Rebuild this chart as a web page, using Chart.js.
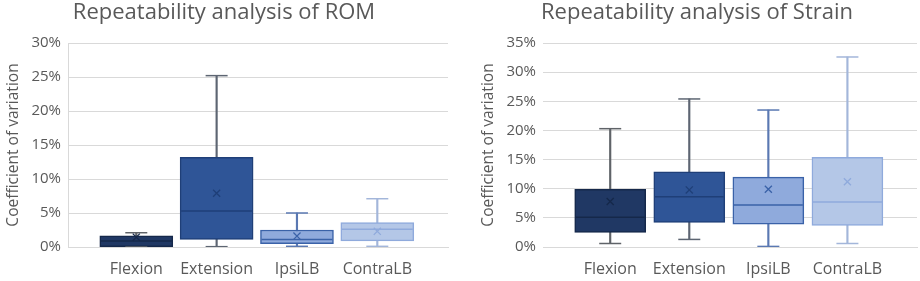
<!DOCTYPE html>
<html>
<head>
<meta charset="utf-8">
<script src="https://cdn.jsdelivr.net/npm/chart.js@4.4.1/dist/chart.umd.min.js"></script>
<style>
  body { margin: 0; background: #fff; }
  .wrap { position: absolute; top: 0; width: 460px; height: 281px; }
</style>
</head>
<body>
<div class="wrap" style="left:0"><canvas id="romChart"></canvas></div>
<div class="wrap" style="left:460px"><canvas id="strainChart"></canvas></div>
<script>
const categories = ['Flexion', 'Extension', 'IpsiLB', 'ContraLB'];

// ROM, coefficient of variation in %
const romMin    = [0.0, 0.05, 0.1, 0.1];
const romQ1     = [0.05, 1.1, 0.5, 0.9];
const romMedian = [0.9, 5.3, 1.1, 2.6];
const romQ3     = [1.65, 13.2, 2.5, 3.6];
const romMax    = [2.1, 25.2, 5.0, 7.1];
const romMean   = [1.45, 7.9, 1.6, 2.3];

// Strain, coefficient of variation in %
const strainMin    = [0.6, 1.3, 0.1, 0.6];
const strainQ1     = [2.5, 4.2, 3.9, 3.7];
const strainMedian = [5.1, 8.6, 7.2, 7.7];
const strainQ3     = [9.9, 12.9, 12.0, 15.4];
const strainMax    = [20.3, 25.4, 23.5, 32.6];
const strainMean   = [7.8, 9.8, 9.9, 11.2];

const fillColors    = ['#203864', '#2f5597', '#8faadc', '#b4c7e7'];
const borderColors  = ['#15284a', '#1f3f78', '#3a62a8', '#8faadc'];
const whiskerColors = ['#5f6368', '#5d6572', '#5a78b2', '#a3b6da'];
const textColor = '#595959';
const gridColor = '#d9d9d9';

function points(values) {
    return values.map((v, i) => ({x: i, y: v}));
}

function makeBoxChart(id, title, mins, q1, med, q3, maxs, mean, yMax, pad, yAxisWidth, titlePad, boxWidth, showLeftLine) {
    const data = {
        datasets: [
            {   // whiskers
                type: 'bar',
                data: mins.map((v, i) => ({x: i, y: [v, maxs[i]]})),
                backgroundColor: whiskerColors,
                barThickness: 1.5,
                grouped: false,
                order: 4
            },
            {   // boxes
                type: 'bar',
                data: q1.map((v, i) => ({x: i, y: [v, q3[i]]})),
                backgroundColor: fillColors,
                borderColor: borderColors,
                borderWidth: 1.5,
                borderSkipped: false,
                barThickness: boxWidth,
                grouped: false,
                order: 3
            },
            {   // whisker caps
                type: 'line',
                data: points(mins).concat(points(maxs)),
                showLine: false,
                pointStyle: 'line',
                pointRadius: 11,
                pointBorderWidth: 1.5,
                pointBorderColor: whiskerColors.concat(whiskerColors),
                order: 2
            },
            {   // medians
                type: 'line',
                data: points(med),
                showLine: false,
                pointStyle: 'line',
                pointRadius: boxWidth / 2 - 1,
                pointBorderWidth: 1.5,
                pointBorderColor: borderColors,
                order: 1
            },
            {   // means
                type: 'line',
                data: points(mean),
                showLine: false,
                pointStyle: 'crossRot',
                pointRadius: 5,
                pointBorderWidth: 1.3,
                pointBorderColor: borderColors,
                order: 0
            }
        ]
    };

    const config = {
        type: 'bar',
        data: data,
        options: {
            responsive: false,
            animation: false,
            layout: {
                autoPadding: false,
                padding: {left: pad[0], right: pad[1], top: 0, bottom: 0}
            },
            scales: {
                x: {
                    type: 'linear',
                    offset: false,
                    min: -0.85,
                    max: 3.88,
                    afterBuildTicks: (scale) => {
                        scale.ticks = categories.map((c, i) => ({value: i}));
                    },
                    afterFit: (scale) => {
                        scale.height = 34;
                        scale.paddingLeft = 0;
                        scale.paddingRight = 0;
                    },
                    grid: {display: false},
                    border: {display: true, color: gridColor},
                    ticks: {
                        color: textColor,
                        font: {family: 'Open Sans', size: 16},
                        padding: 5,
                        maxRotation: 0,
                        autoSkip: false,
                        callback: (v) => categories[v]
                    }
                },
                y: {
                    min: 0,
                    max: yMax,
                    afterFit: (scale) => {
                        scale.width = yAxisWidth;
                        scale.paddingTop = 0;
                        scale.paddingBottom = 0;
                    },
                    ticks: {
                        stepSize: 5,
                        color: textColor,
                        font: {family: 'Open Sans', size: 15},
                        padding: 7,
                        callback: (v) => v + '%'
                    },
                    grid: {color: gridColor, drawTicks: false},
                    border: {display: showLeftLine, color: gridColor},
                    title: {
                        display: true,
                        text: 'Coefficient of variation',
                        color: textColor,
                        font: {family: 'Open Sans', size: 15.5},
                        padding: {top: titlePad, bottom: 0}
                    }
                }
            },
            plugins: {
                legend: {display: false},
                tooltip: {enabled: false},
                title: {
                    display: true,
                    text: title,
                    color: textColor,
                    font: {family: 'Open Sans', size: 22, weight: 'normal'},
                    padding: {top: 0, bottom: 16.6}
                }
            }
        }
    };

    new Chart(id, config);
}

function sizeCanvas(id) {
    const c = document.getElementById(id);
    c.width = 460;
    c.height = 281;
}

sizeCanvas('romChart');
sizeCanvas('strainChart');
makeBoxChart('romChart', 'Repeatability analysis of ROM',
    romMin, romQ1, romMedian, romQ3, romMax, romMean, 30, [0, 12], 68, 4, 73, true);
makeBoxChart('strainChart', 'Repeatability analysis of Strain',
    strainMin, strainQ1, strainMedian, strainQ3, strainMax, strainMean, 35, [17, 3], 66, 2, 71, false);
</script>
</body>
</html>
